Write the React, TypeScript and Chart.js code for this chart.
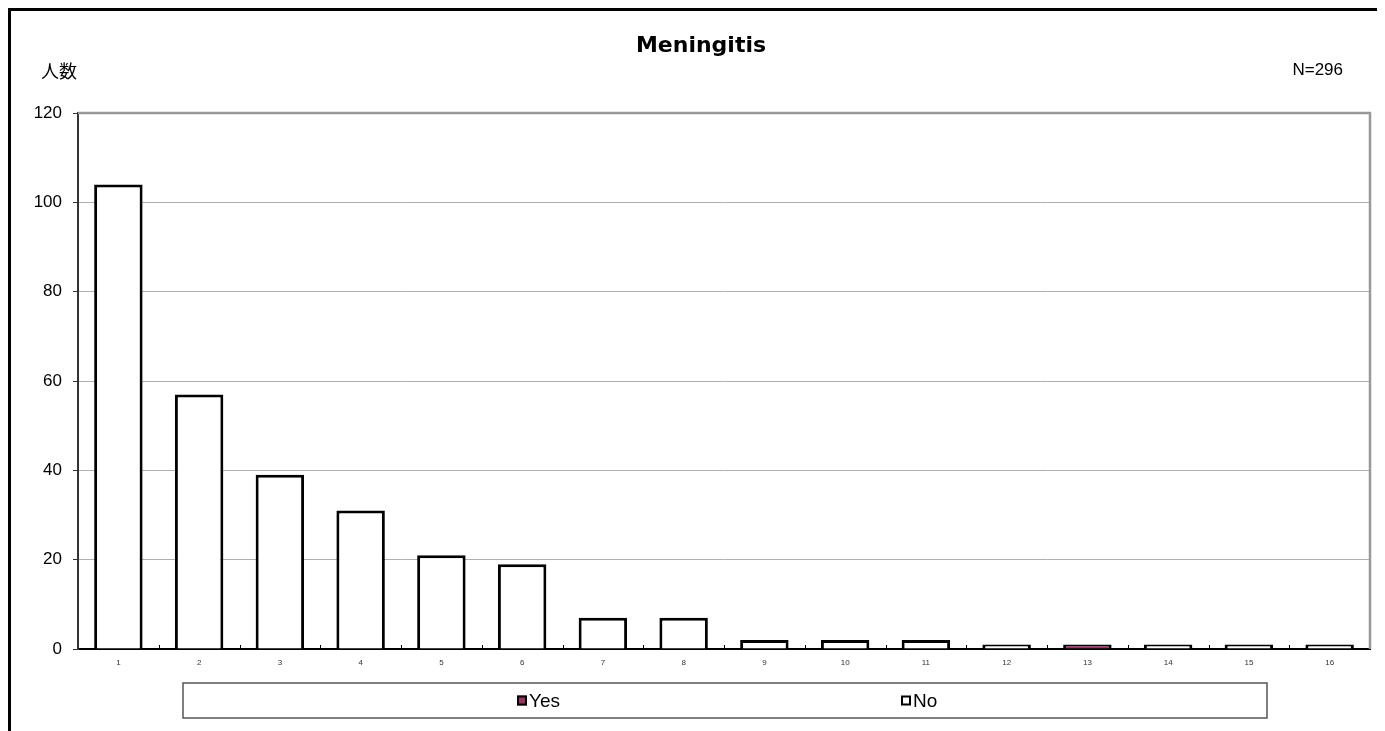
import React, { useEffect, useRef } from "react";
import { Chart, registerables } from "chart.js";

Chart.register(...registerables);

const TITLE = "Meningitis";
const Y_LABEL = "人数";
const N_LABEL = "N=296";
const categories = ["1", "2", "3", "4", "5", "6", "7", "8", "9", "10", "11", "12", "13", "14", "15", "16"];
const yesValues: (number | null)[] = [null, null, null, null, null, null, null, null, null, null, null, null, 1, null, null, null];
const noValues: (number | null)[] = [104, 57, 39, 31, 21, 19, 7, 7, 2, 2, 2, 1, null, 1, 1, 1];
const yTicks = [0, 20, 40, 60, 80, 100, 120];

const FONT = "'Liberation Sans', Arial, sans-serif";

const decorPlugin = {
  id: "decor",
  afterDraw(chart: any) {
    const ctx = chart.ctx;
    const ca = chart.chartArea;
    const x = chart.scales.x;
    ctx.save();
    // top and right frame
    ctx.strokeStyle = "#999";
    ctx.lineWidth = 2.5;
    ctx.beginPath();
    ctx.moveTo(ca.left, ca.top);
    ctx.lineTo(ca.right, ca.top);
    ctx.lineTo(ca.right, ca.bottom);
    ctx.stroke();
    // inner x ticks at category boundaries
    ctx.strokeStyle = "#000";
    ctx.lineWidth = 1;
    for (let i = 0; i < categories.length - 1; i++) {
      const px = Math.round((x.getPixelForValue(i) + x.getPixelForValue(i + 1)) / 2) + 0.5;
      ctx.beginPath();
      ctx.moveTo(px, ca.bottom);
      ctx.lineTo(px, ca.bottom - 4);
      ctx.stroke();
    }
    // title
    ctx.fillStyle = "#000";
    ctx.font = `bold 22px 'DejaVu Sans', ${FONT}`;
    ctx.textAlign = "center";
    ctx.textBaseline = "alphabetic";
    ctx.fillText(TITLE, 690, 41);
    // y label
    ctx.font = "18px 'Noto Sans CJK JP', sans-serif";
    ctx.textAlign = "left";
    ctx.textBaseline = "middle";
    ctx.fillText(Y_LABEL, 30, 60);
    // N label
    ctx.font = `17px ${FONT}`;
    ctx.textAlign = "right";
    ctx.fillText(N_LABEL, 1332, 59);
    // legend box
    const lx = 172, ly = 672, lw = 1084, lh = 35;
    ctx.strokeStyle = "#555";
    ctx.lineWidth = 1.5;
    ctx.strokeRect(lx, ly, lw, lh);
    const items = [
      { x: 506, ds: chart.data.datasets[0] },
      { x: 890, ds: chart.data.datasets[1] },
    ];
    ctx.font = `19px ${FONT}`;
    ctx.textAlign = "left";
    ctx.textBaseline = "middle";
    const cy = ly + lh / 2;
    for (const it of items) {
      ctx.fillStyle = it.ds.backgroundColor;
      ctx.fillRect(it.x, cy - 5, 10, 10);
      ctx.strokeStyle = "#000";
      ctx.lineWidth = 2;
      ctx.strokeRect(it.x + 1, cy - 4, 8, 8);
      ctx.fillStyle = "#000";
      ctx.fillText(it.ds.label, it.x + 12, cy + 1);
    }
    ctx.restore();
  },
};

export default function App() {
  const ref = useRef<HTMLCanvasElement | null>(null);
  useEffect(() => {
    document.documentElement.style.overflow = "hidden";
    document.body.style.overflow = "hidden";
    const chart = new Chart(ref.current as HTMLCanvasElement, {
      type: "bar",
      data: {
        labels: categories,
        datasets: [
          {
            label: "Yes",
            data: yesValues,
            backgroundColor: "#993366",
            borderColor: "#000",
            borderWidth: 3,
            barPercentage: 0.6,
            categoryPercentage: 1,
          },
          {
            label: "No",
            data: noValues,
            backgroundColor: "#ffffff",
            borderColor: "#000",
            borderWidth: 3,
            barPercentage: 0.6,
            categoryPercentage: 1,
          },
        ],
      },
      options: {
        responsive: false,
        animation: false,
        layout: { padding: { top: 102, right: 15, bottom: 0, left: 0 } },
        plugins: {
          legend: { display: false },
          title: { display: false },
          tooltip: { enabled: false },
        },
        scales: {
          x: {
            stacked: true,
            afterFit: (s: any) => {
              s.height = 82;
            },
            grid: { display: false, drawTicks: false },
            border: { color: "#000", width: 2 },
            ticks: {
              color: "#333",
              font: { family: FONT, size: 8 },
              padding: 9,
              maxRotation: 0,
              autoSkip: false,
            },
          },
          y: {
            stacked: true,
            min: 0,
            max: 120,
            afterFit: (s: any) => {
              s.width = 67;
            },
            afterBuildTicks: (s: any) => {
              s.ticks = yTicks.map((v) => ({ value: v }));
            },
            grid: { color: "#b0b0b0", lineWidth: 1, tickLength: 5, tickColor: "#333" },
            border: { color: "#333", width: 2 },
            ticks: {
              color: "#000",
              font: { family: FONT, size: 17 },
              padding: 11,
            },
          },
        },
      },
      plugins: [decorPlugin],
    });
    return () => chart.destroy();
  }, []);
  return (
    <div style={{ borderLeft: "3px solid #000", borderTop: "3px solid #000", width: 1374, height: 720 }}>
      <canvas ref={ref} width={1374} height={720} style={{ display: "block" }} />
    </div>
  );
}
